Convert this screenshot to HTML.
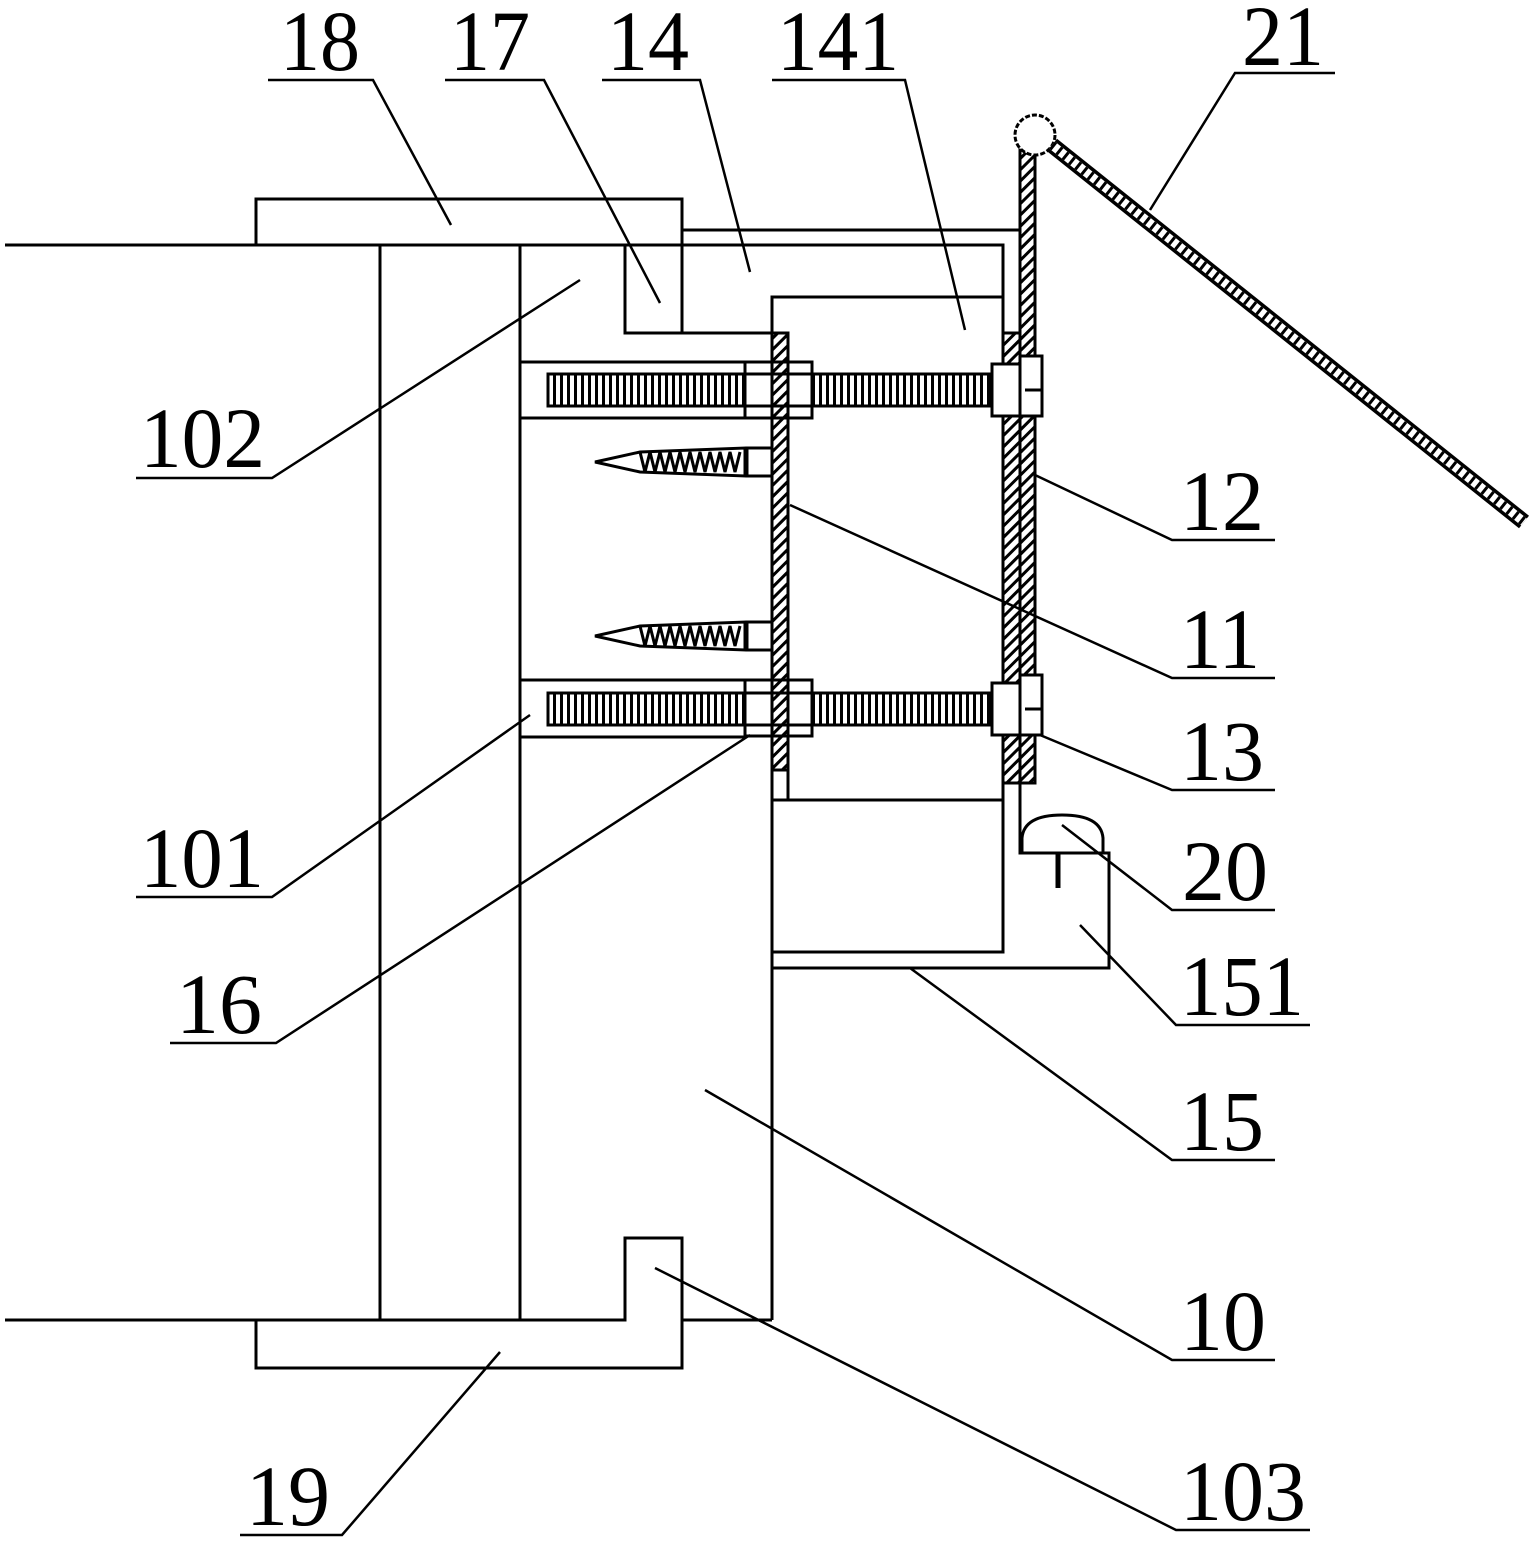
<!DOCTYPE html>
<html><head><meta charset="utf-8"><style>html,body{margin:0;padding:0;background:#fff}svg{display:block}</style></head>
<body>
<svg width="1538" height="1557" viewBox="0 0 1538 1557" xmlns="http://www.w3.org/2000/svg">
<defs>
<pattern id="thr" width="7" height="10" patternUnits="userSpaceOnUse"><rect width="7" height="10" fill="#fff"/><rect width="3" height="10" fill="#000"/></pattern>
<pattern id="hat" width="8" height="8" patternUnits="userSpaceOnUse" patternTransform="rotate(45)"><rect width="8" height="8" fill="#fff"/><rect width="3" height="8" fill="#000"/></pattern>
</defs>
<g fill="none" stroke="#000" stroke-width="3">
<!-- top -->
<polyline points="5,245 625,245"/>
<rect x="256" y="199" width="426" height="46"/>
<polyline points="625,245 625,333 772,333"/>
<line x1="682" y1="199" x2="682" y2="333"/>
<polyline points="682,230 1020,230"/>
<polyline points="682,245 1003,245 1003,952 772,952"/>
<polyline points="1003,297 772,297 772,1320"/>
<line x1="772" y1="800" x2="1003" y2="800"/>
<line x1="788" y1="770" x2="788" y2="800"/>
<!-- verticals -->
<line x1="380" y1="245" x2="380" y2="1320"/>
<line x1="520" y1="245" x2="520" y2="1320"/>
<!-- bottom -->
<polyline points="5,1320 625,1320 625,1238 682,1238 682,1368 256,1368 256,1320"/>
<line x1="682" y1="1320" x2="772" y2="1320"/>
<!-- sleeves -->
<polyline points="520,362 745,362"/><polyline points="520,418 745,418"/>
<polyline points="520,680 745,680"/><polyline points="520,737 745,737"/>
<!-- 15 / 151 / 20 -->
<polyline points="772,968 1109,968 1109,853 1020,853 1020,783"/>
<path d="M1022,853 L1022,838 Q1024,815 1062,815 Q1101,815 1103,838 L1103,853"/>
<line x1="1058" y1="853" x2="1058" y2="888" stroke-width="5"/>
</g>
<!-- plates -->
<rect x="772" y="333" width="16" height="437" fill="url(#hat)" stroke="#000" stroke-width="3"/>
<rect x="1003" y="333" width="17" height="450" fill="url(#hat)" stroke="#000" stroke-width="3"/>
<rect x="1020" y="150" width="15" height="633" fill="url(#hat)" stroke="#000" stroke-width="3"/>
<circle cx="1035" cy="135" r="20" fill="#fff" stroke="#000" stroke-width="3" stroke-dasharray="5,2"/>
<!-- rope -->
<line x1="1052" y1="145" x2="1524" y2="522" stroke="#000" stroke-width="16"/>
<line x1="1052" y1="145" x2="1524" y2="522" stroke="#fff" stroke-width="9"/>
<line x1="1052" y1="145" x2="1524" y2="522" stroke="#000" stroke-width="9" stroke-dasharray="3,5"/>
<!-- bolts -->
<g stroke="#000" stroke-width="3">
<rect x="548" y="374" width="442" height="32" fill="url(#thr)"/>
<rect x="548" y="693" width="442" height="32" fill="url(#thr)"/>
<rect x="745" y="362" width="67" height="56" fill="#fff"/>
<rect x="745" y="680" width="67" height="56" fill="#fff"/>
<rect x="772" y="362" width="16" height="56" fill="url(#hat)"/>
<rect x="772" y="680" width="16" height="56" fill="url(#hat)"/>
<line x1="745" y1="374" x2="812" y2="374"/><line x1="745" y1="406" x2="812" y2="406"/>
<line x1="745" y1="693" x2="812" y2="693"/><line x1="745" y1="725" x2="812" y2="725"/>
<rect x="992" y="364" width="28" height="52" fill="#fff"/>
<rect x="992" y="683" width="28" height="52" fill="#fff"/>
<rect x="1020" y="356" width="22" height="60" fill="#fff"/>
<rect x="1020" y="675" width="22" height="60" fill="#fff"/>
<line x1="1025" y1="390" x2="1042" y2="390"/><line x1="1025" y1="709" x2="1042" y2="709"/>
<!-- screws -->
<rect x="747" y="448" width="25" height="28" fill="#fff"/>
<rect x="747" y="622" width="25" height="28" fill="#fff"/>
<path d="M595,462 L640,452 L745,448 L745,476 L640,472 Z" fill="#fff"/>
<path d="M595,636 L640,626 L745,622 L745,650 L640,646 Z" fill="#fff"/>
<path d="M640,452 l5,20 l5,-20 l5,20 l5,-20 l5,20 l5,-20 l5,20 l5,-20 l5,20 l5,-20 l5,20 l5,-20 l5,20 l5,-20 l5,20 l5,-20 l5,20 l5,-20 l5,20 l5,-20" fill="none"/>
<path d="M640,626 l5,20 l5,-20 l5,20 l5,-20 l5,20 l5,-20 l5,20 l5,-20 l5,20 l5,-20 l5,20 l5,-20 l5,20 l5,-20 l5,20 l5,-20 l5,20 l5,-20 l5,20 l5,-20" fill="none"/>
</g>
<!-- leaders -->
<g fill="none" stroke="#000" stroke-width="2.5">
<polyline points="268,80 373,80 451,225"/>
<polyline points="445,80 544,80 660,303"/>
<polyline points="602,80 700,80 750,272"/>
<polyline points="772,80 905,80 965,330"/>
<polyline points="1335,73 1235,73 1150,210"/>
<polyline points="136,478 272,478 580,280"/>
<polyline points="1275,540 1172,540 1035,475"/>
<polyline points="1275,678 1172,678 790,505"/>
<polyline points="1275,790 1172,790 1040,735"/>
<polyline points="1275,910 1172,910 1062,825"/>
<polyline points="1310,1025 1176,1025 1080,925"/>
<polyline points="1275,1160 1172,1160 910,968"/>
<polyline points="1275,1360 1172,1360 705,1090"/>
<polyline points="1310,1530 1176,1530 655,1268"/>
<polyline points="136,897 272,897 530,715"/>
<polyline points="170,1043 276,1043 750,735"/>
<polyline points="240,1535 342,1535 500,1352"/>
</g>
<g font-family="Liberation Serif, serif" font-size="86" fill="#000" lengthAdjust="spacingAndGlyphs">
<text x="280" y="70" textLength="80" lengthAdjust="spacingAndGlyphs">18</text>
<text x="450" y="70" textLength="80" lengthAdjust="spacingAndGlyphs">17</text>
<text x="607" y="70" textLength="82" lengthAdjust="spacingAndGlyphs">14</text>
<text x="777" y="70" textLength="122" lengthAdjust="spacingAndGlyphs">141</text>
<text x="1242" y="65" textLength="82" lengthAdjust="spacingAndGlyphs">21</text>
<text x="140" y="467" textLength="125" lengthAdjust="spacingAndGlyphs">102</text>
<text x="1180" y="530" textLength="84" lengthAdjust="spacingAndGlyphs">12</text>
<text x="1180" y="668" textLength="80" lengthAdjust="spacingAndGlyphs">11</text>
<text x="1180" y="780" textLength="84" lengthAdjust="spacingAndGlyphs">13</text>
<text x="1182" y="900" textLength="86" lengthAdjust="spacingAndGlyphs">20</text>
<text x="1180" y="1015" textLength="124" lengthAdjust="spacingAndGlyphs">151</text>
<text x="1180" y="1150" textLength="84" lengthAdjust="spacingAndGlyphs">15</text>
<text x="1180" y="1350" textLength="86" lengthAdjust="spacingAndGlyphs">10</text>
<text x="1180" y="1520" textLength="126" lengthAdjust="spacingAndGlyphs">103</text>
<text x="140" y="887" textLength="124" lengthAdjust="spacingAndGlyphs">101</text>
<text x="176" y="1033" textLength="86" lengthAdjust="spacingAndGlyphs">16</text>
<text x="246" y="1525" textLength="84" lengthAdjust="spacingAndGlyphs">19</text>
</g>
</svg>
</body></html>
